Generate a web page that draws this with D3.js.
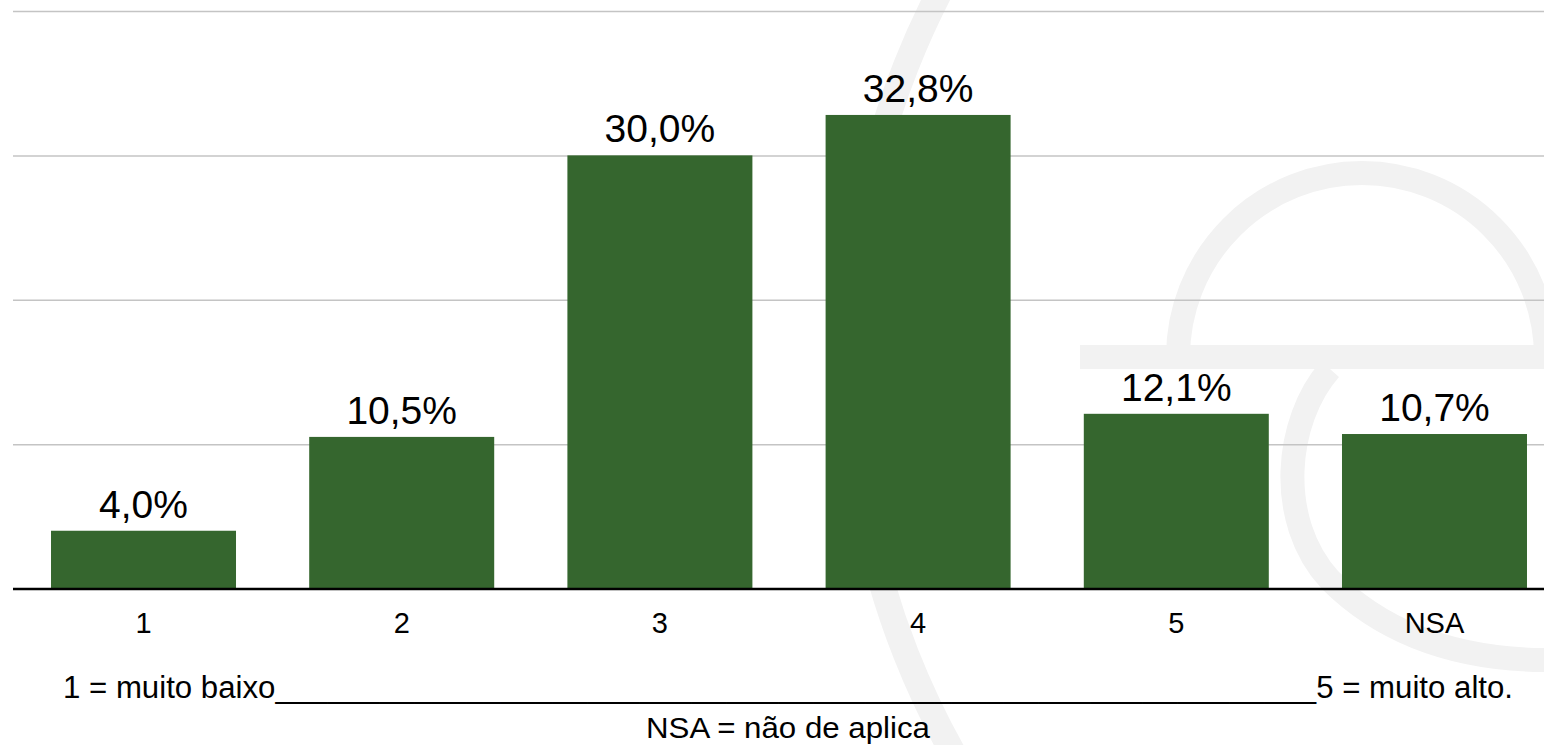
<!DOCTYPE html>
<html>
<head>
<meta charset="utf-8">
<script src="https://cdn.jsdelivr.net/npm/d3@7"></script>
<style>
  html, body { margin: 0; padding: 0; background: #fff; }
  svg { display: block; }
  text { font-family: "Liberation Sans", Arial, Helvetica, sans-serif; fill: #000; }
</style>
</head>
<body>
<svg id="chart" width="1544" height="745"></svg>
<script>
const categories = ["1", "2", "3", "4", "5", "NSA"];
const values = [4.0, 10.5, 30.0, 32.8, 12.1, 10.7];
const valueLabels = ["4,0%", "10,5%", "30,0%", "32,8%", "12,1%", "10,7%"];
const gridTicks = [10, 20, 30, 40];
const footerLeft = "1 = muito baixo";
const footerRight = "5 = muito alto.";
const footerNote = "NSA = não de aplica";

const W = 1544, H = 745;
const svg = d3.select("#chart");

// faint watermark logo (decoration only)
const wm = svg.append("g").attr("fill", "none").attr("stroke", "#f2f2f2").attr("stroke-width", 24);
wm.append("circle").attr("cx", 1650).attr("cy", 360).attr("r", 800).attr("stroke-width", 26);
wm.append("path").attr("d", "M1178,357 A184,184 0 0 1 1546,357");
wm.append("line").attr("x1", 1080).attr("x2", 1544).attr("y1", 357).attr("y2", 357);
wm.append("path").attr("d", "M1330,369 C1285,420 1275,520 1330,580 C1390,640 1470,662 1560,660");

const x = d3.scaleBand().domain(categories).range([14.4, 1563.6]).paddingInner(0.2835).paddingOuter(0.1418);
const y = d3.scaleLinear().domain([0, 40]).range([588.5, 11]);

// gridlines
const grid = d3.axisLeft(y).tickValues(gridTicks).tickSize(-(W - 13)).tickFormat("");
const gg = svg.append("g").attr("transform", "translate(13,0)").call(grid);
gg.select(".domain").remove();
gg.selectAll("line").attr("stroke", "#c4c4c4").attr("stroke-width", 1.5);

// bars
svg.append("g").selectAll("rect").data(categories).join("rect")
  .attr("x", d => x(d))
  .attr("width", x.bandwidth())
  .attr("y", (d, i) => y(values[i]))
  .attr("height", (d, i) => y(0) - y(values[i]))
  .attr("fill", "#35662e");

// value labels
svg.append("g").selectAll("text").data(categories).join("text")
  .attr("x", d => x(d) + x.bandwidth() / 2)
  .attr("y", (d, i) => y(values[i]) - 13)
  .attr("text-anchor", "middle")
  .attr("font-size", 39)
  .text((d, i) => valueLabels[i]);

// x axis
const xAxis = d3.axisBottom(x).tickSize(0).tickPadding(24);
const xg = svg.append("g").attr("transform", `translate(0,${y(0)})`).call(xAxis);
xg.select(".domain").remove();
xg.append("line").attr("x1", 13).attr("x2", W).attr("y1", 0.5).attr("y2", 0.5)
  .attr("stroke", "#000").attr("stroke-width", 2.5);
xg.selectAll(".tick text").attr("font-size", 29).attr("fill", "#000")
  .attr("font-family", "Liberation Sans, Arial, sans-serif");

// footer
const f = svg.append("g").attr("font-size", 30);
const ft = f.append("text").attr("x", 63).attr("y", 698).attr("font-size", 31)
  .attr("textLength", 1450).attr("lengthAdjust", "spacingAndGlyphs");
ft.append("tspan").text(footerLeft);
ft.append("tspan").text("_".repeat(60));
ft.append("tspan").text(footerRight);
f.append("text").attr("x", 788).attr("y", 738).attr("text-anchor", "middle")
  .attr("textLength", 284).attr("lengthAdjust", "spacingAndGlyphs").text(footerNote);
</script>
</body>
</html>
